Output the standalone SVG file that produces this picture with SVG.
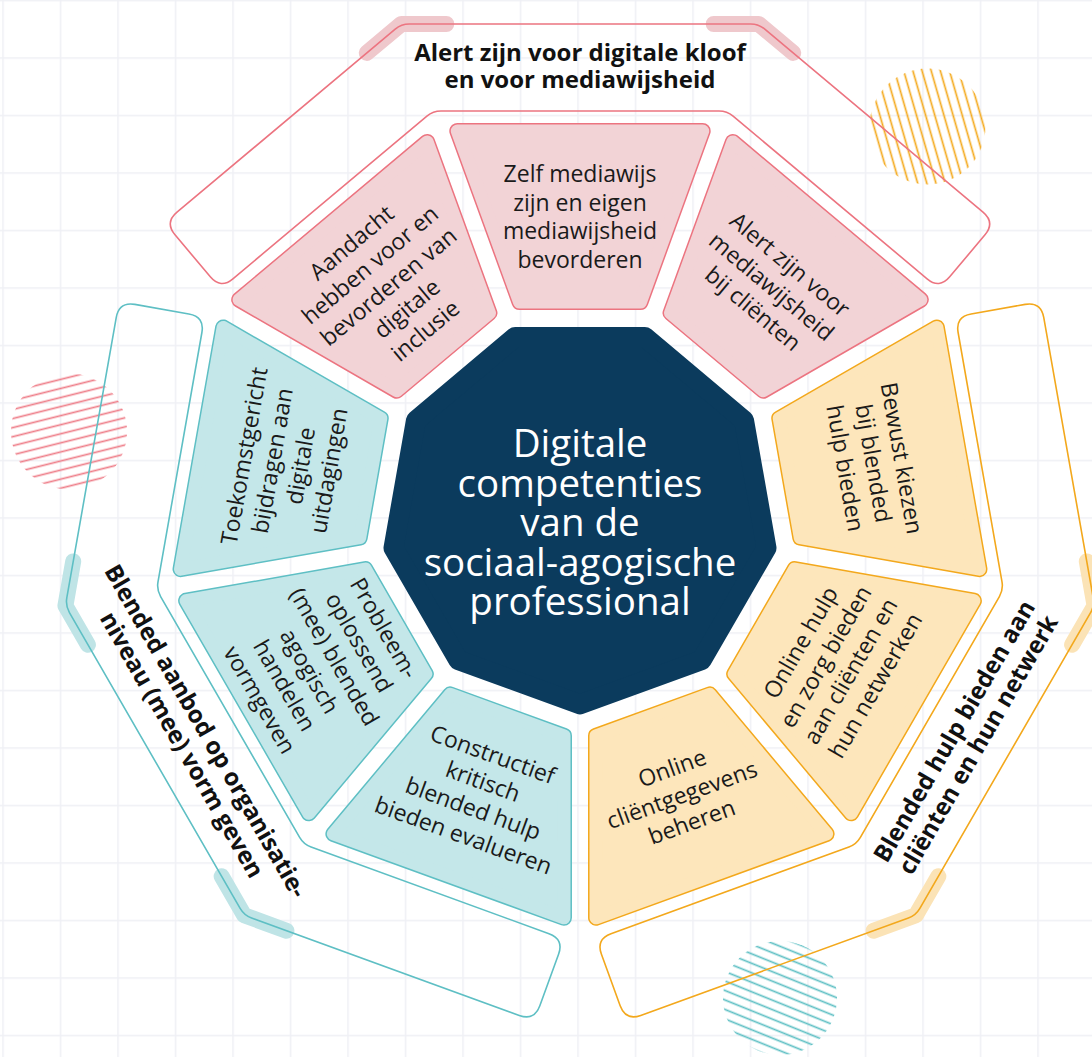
<svg xmlns="http://www.w3.org/2000/svg" xmlns:xlink="http://www.w3.org/1999/xlink" width="1092" height="1057" viewBox="0 0 1092 1057">
<style>
.st{font-family:"Open Sans","Liberation Sans",sans-serif;font-size:23px;fill:#1a1a1a;text-anchor:middle}
.lbl{font-family:"Open Sans","Liberation Sans",sans-serif;font-weight:700;font-size:24px;fill:#111;text-anchor:middle}
.ctr{font-family:"Open Sans","Liberation Sans",sans-serif;font-weight:500;font-size:38.5px;fill:#fff;text-anchor:middle}
.so{stroke-width:16;stroke-linejoin:round}
.sf{stroke-width:13;stroke-linejoin:round}
.pink .so{fill:#ec7480;stroke:#ec7480}
.pink .sf{fill:#f2d3d6;stroke:#f2d3d6}
.yellow .so{fill:#f3a81c;stroke:#f3a81c}
.yellow .sf{fill:#fde6bb;stroke:#fde6bb}
.teal .so{fill:#5ebfc4;stroke:#5ebfc4}
.teal .sf{fill:#c4e7e9;stroke:#c4e7e9}
.br{fill:none;stroke-width:1.6}
.hl{fill:none;stroke-width:16;stroke-linecap:round;stroke-linejoin:round}
.pink .br{stroke:#ec7480}.pink .hl{stroke:#efc8cc}
.yellow .br{stroke:#f3a81c}.yellow .hl{stroke:#fbe3b6}
.teal .br{stroke:#5ebfc4}.teal .hl{stroke:#bfe4e6}
</style>
<defs>
<pattern id="grid" patternUnits="userSpaceOnUse" x="2.25" y="-0.25" width="57.5" height="57.5"><path d="M0.75,0V57.5M0,0.75H57.5" stroke="#eff0f5" stroke-width="1.5" fill="none"/></pattern>
<pattern id="hatchY" patternUnits="userSpaceOnUse" width="8.8" height="8.8" patternTransform="rotate(-16)"><line x1="4.4" y1="-1" x2="4.4" y2="10" stroke="#f4aa1f" stroke-width="1.7"/></pattern>
<pattern id="hatchP" patternUnits="userSpaceOnUse" width="8.8" height="8.8" patternTransform="rotate(76)"><line x1="4.4" y1="-1" x2="4.4" y2="10" stroke="#ee7e89" stroke-width="1.7"/></pattern>
<pattern id="hatchT" patternUnits="userSpaceOnUse" width="8.8" height="8.8" patternTransform="rotate(-68)"><line x1="4.4" y1="-1" x2="4.4" y2="10" stroke="#5ebfc4" stroke-width="1.7"/></pattern>
<polygon id="segShape" points="457.3,131 702.7,131 640.5,302 519.5,302"/>
<path id="bracketShape" d="M409.3,24 L750.7,24 Q758.7,24 764.8,29.1 L983,212.2 Q995.3,222.5 985,234.8 L949.7,276.8 Q939.4,289.1 927.1,278.8 L733.1,116.1 Q727,111 719,111 L441,111 Q433,111 426.9,116.1 L232.9,278.8 Q220.6,289.1 210.3,276.8 L175,234.8 Q164.7,222.5 177,212.2 L395.2,29.1 Q401.3,24 409.3,24 Z"/>
<path id="hlShape" d="M366.8,52.9 L401.3,24 L446.3,24 M713.7,24 L758.7,24 L793.2,52.9"/>
</defs>
<rect width="1092" height="1057" fill="#fff"/>
<rect width="1092" height="1057" fill="url(#grid)"/>
<g id="decor">
<circle cx="927.5" cy="126.5" r="58" fill="url(#hatchY)"/>
<circle cx="69" cy="431.5" r="58" fill="url(#hatchP)"/>
<circle cx="780" cy="998" r="57" fill="url(#hatchT)"/>
</g>
<g id="brackets">
<g id="bracket-pink" class="pink">
<use href="#hlShape" class="hl"/>
<use href="#bracketShape" class="br"/>
<text class="lbl" x="580" y="60.5">Alert zijn voor digitale kloof<tspan x="580" y="88">en voor mediawijsheid</tspan></text>
</g>
<g id="bracket-yellow" class="yellow">
<g transform="rotate(120 580 515)"><use href="#hlShape" class="hl"/><use href="#bracketShape" class="br"/></g>
<text class="lbl" transform="translate(967.5,738.75) rotate(-60)" x="0" y="-7">Blended hulp bieden aan<tspan x="0" y="20.5">cliënten en hun netwerk</tspan></text>
</g>
<g id="bracket-teal" class="teal">
<g transform="rotate(240 580 515)"><use href="#hlShape" class="hl"/><use href="#bracketShape" class="br"/></g>
<text class="lbl" transform="translate(192.5,738.75) rotate(60)" x="0" y="-7">Blended aanbod op organisatie-<tspan x="0" y="20.5">niveau (mee) vorm geven</tspan></text>
</g>
</g>
<g id="center">
<polygon points="580,704.4 458.3,660.1 393.5,547.9 416,420.3 515.2,337 644.8,337 744,420.3 766.5,547.9 701.7,660.1" fill="#0b3b5d" stroke="#0b3b5d" stroke-width="20" stroke-linejoin="round"/>
<text class="ctr" x="580" y="457">Digitale<tspan x="580" y="496.5">competenties</tspan><tspan x="580" y="536">van de</tspan><tspan x="580" y="575.5">sociaal-agogische</tspan><tspan x="580" y="615">professional</tspan></text>
</g>
<g id="segments">
<g id="seg-zelf" class="pink">
<use href="#segShape" class="so"/><use href="#segShape" class="sf"/>
<text class="st" x="580" y="181.95">Zelf mediawijs<tspan x="580" dy="28.7">zijn en eigen</tspan><tspan x="580" dy="28.7">mediawijsheid</tspan><tspan x="580" dy="28.7">bevorderen</tspan></text>
</g>
<g id="seg-alert" class="pink" transform="rotate(40 580 515)">
<use href="#segShape" class="so"/><use href="#segShape" class="sf"/>
<text class="st" x="580" y="196.3">Alert zijn voor<tspan x="580" dy="28.7">mediawijsheid</tspan><tspan x="580" dy="28.7">bij cliënten</tspan></text>
</g>
<g id="seg-bewust" class="yellow" transform="rotate(80 580 515)">
<use href="#segShape" class="so"/><use href="#segShape" class="sf"/>
<text class="st" x="580" y="196.3">Bewust kiezen<tspan x="580" dy="28.7">bij blended</tspan><tspan x="580" dy="28.7">hulp bieden</tspan></text>
</g>
<g id="seg-onlinehulp" class="yellow" transform="rotate(120 580 515)">
<use href="#segShape" class="so"/><use href="#segShape" class="sf"/>
<text class="st" transform="rotate(180 580 217)" x="580" y="181.95">Online hulp<tspan x="580" dy="28.7">en zorg bieden</tspan><tspan x="580" dy="28.7">aan cliënten en</tspan><tspan x="580" dy="28.7">hun netwerken</tspan></text>
</g>
<g id="seg-clientgegevens" class="yellow" transform="rotate(160 580 515)">
<use href="#segShape" class="so"/><use href="#segShape" class="sf"/>
<text class="st" transform="rotate(180 580 217)" x="580" y="196.3">Online<tspan x="580" dy="28.7">cliëntgegevens</tspan><tspan x="580" dy="28.7">beheren</tspan></text>
</g>
<g id="seg-constructief" class="teal" transform="rotate(200 580 515)">
<use href="#segShape" class="so"/><use href="#segShape" class="sf"/>
<text class="st" transform="rotate(180 580 217)" x="580" y="181.95">Constructief<tspan x="580" dy="28.7">kritisch</tspan><tspan x="580" dy="28.7">blended hulp</tspan><tspan x="580" dy="28.7">bieden evalueren</tspan></text>
</g>
<g id="seg-probleem" class="teal" transform="rotate(240 580 515)">
<use href="#segShape" class="so"/><use href="#segShape" class="sf"/>
<text class="st" transform="rotate(180 580 217)" x="580" y="153.25">Probleem-<tspan x="580" dy="28.7">oplossend</tspan><tspan x="580" dy="28.7">(mee) blended</tspan><tspan x="580" dy="28.7">agogisch</tspan><tspan x="580" dy="28.7">handelen</tspan><tspan x="580" dy="28.7">vormgeven</tspan></text>
</g>
<g id="seg-toekomst" class="teal" transform="rotate(280 580 515)">
<use href="#segShape" class="so"/><use href="#segShape" class="sf"/>
<text class="st" x="580" y="181.95">Toekomstgericht<tspan x="580" dy="28.7">bijdragen aan</tspan><tspan x="580" dy="28.7">digitale</tspan><tspan x="580" dy="28.7">uitdagingen</tspan></text>
</g>
<g id="seg-aandacht" class="pink" transform="rotate(320 580 515)">
<use href="#segShape" class="so"/><use href="#segShape" class="sf"/>
<text class="st" x="580" y="167.6">Aandacht<tspan x="580" dy="28.7">hebben voor en</tspan><tspan x="580" dy="28.7">bevorderen van</tspan><tspan x="580" dy="28.7">digitale</tspan><tspan x="580" dy="28.7">inclusie</tspan></text>
</g>
</g>
</svg>
